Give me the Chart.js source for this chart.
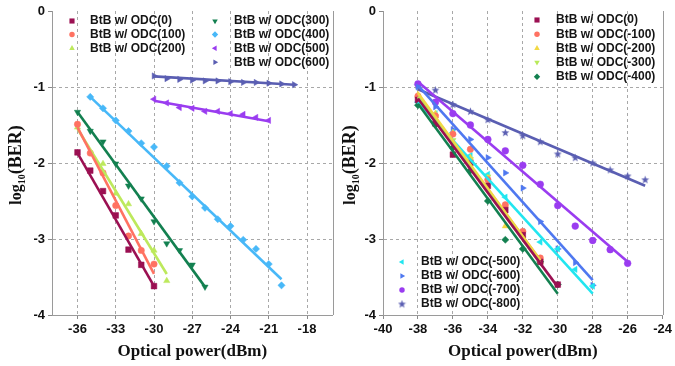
<!DOCTYPE html>
<html><head><meta charset="utf-8">
<script src="https://cdn.jsdelivr.net/npm/chart.js"></script>
<style>
html,body{margin:0;padding:0;background:#fff;}
#wrap{position:relative;width:675px;height:366px;background:#fff;}
#c1{position:absolute;left:0;top:0;width:337px;height:366px;}
#c2{position:absolute;left:337px;top:0;width:338px;height:366px;}
</style></head><body>
<div id="wrap"><canvas id="c1" width="337" height="366"></canvas><canvas id="c2" width="338" height="366"></canvas></div>
<script>
// ---------- LEFT PANEL DATA ----------
const leftXTicks = [-36, -33, -30, -27, -24, -21, -18];
const leftLabels = ['BtB w/ ODC(0)','BtB w/ ODC(100)','BtB w/ ODC(200)','BtB w/ ODC(300)','BtB w/ ODC(400)','BtB w/ ODC(500)','BtB w/ ODC(600)'];
const L0_x = [-36,-35,-34,-33,-32,-31,-30];
const L0_y = [-1.86,-2.10,-2.37,-2.69,-3.14,-3.34,-3.62];
const L0_fx = [-36,-30], L0_fy = [-1.87,-3.62];
const L100_x = [-36,-35,-34,-33,-32,-31,-30];
const L100_y = [-1.49,-1.87,-2.13,-2.56,-2.96,-3.15,-3.33];
const L100_fx = [-36,-30], L100_fy = [-1.53,-3.46];
const L200_x = [-36,-34,-33,-32,-31,-30,-29];
const L200_y = [-1.53,-2.01,-2.40,-2.54,-2.93,-3.15,-3.55];
const L200_fx = [-36,-29], L200_fy = [-1.55,-3.46];
const L300_x = [-36,-35,-34,-33,-32,-31,-30,-29,-28,-27,-26];
const L300_y = [-1.33,-1.58,-1.72,-2.01,-2.30,-2.47,-2.77,-3.06,-3.15,-3.34,-3.63];
const L300_fx = [-36,-26], L300_fy = [-1.33,-3.63];
const L400_x = [-35,-34,-33,-32,-31,-30,-29,-28,-27,-26,-25,-24,-23,-22,-21,-20];
const L400_y = [-1.13,-1.28,-1.44,-1.58,-1.74,-1.79,-2.04,-2.26,-2.44,-2.59,-2.74,-2.83,-3.01,-3.13,-3.33,-3.61];
const L400_fx = [-35,-20], L400_fy = [-1.13,-3.53];
const L500_x = [-30,-29,-28,-27,-26,-25,-24,-23,-22,-21];
const L500_y = [-1.16,-1.21,-1.27,-1.28,-1.32,-1.32,-1.35,-1.36,-1.40,-1.44];
const L500_fx = [-30,-21], L500_fy = [-1.18,-1.45];
const L600_x = [-30,-29,-28,-27,-26,-25,-24,-23,-22,-21,-20,-19];
const L600_y = [-0.855,-0.89,-0.90,-0.91,-0.92,-0.92,-0.93,-0.94,-0.94,-0.95,-0.96,-0.97];
const L600_fx = [-30,-19], L600_fy = [-0.86,-0.97];

// ---------- RIGHT PANEL DATA ----------
const rightLabels = ['BtB w/ ODC(0)','BtB w/ ODC(-100)','BtB w/ ODC(-200)','BtB w/ ODC(-300)','BtB w/ ODC(-400)','BtB w/ ODC(-500)','BtB w/ ODC(-600)','BtB w/ ODC(-700)','BtB w/ ODC(-800)'];
const R0_x = [-38,-37,-36,-35,-34,-33,-32,-31,-30];
const R0_y = [-1.17,-1.48,-1.89,-2.00,-2.30,-2.62,-2.95,-3.30,-3.60];
const R0_fx = [-38,-30], R0_fy = [-1.15,-3.63];
const R100_x = [-38,-37,-36,-35,-34,-33,-32,-31];
const R100_y = [-1.12,-1.38,-1.62,-1.82,-2.22,-2.55,-2.90,-3.25];
const R100_fx = [-38,-31], R100_fy = [-1.10,-3.28];
const R200_x = [-38,-37,-36,-35,-34,-33,-32,-31];
const R200_y = [-1.10,-1.35,-1.60,-1.93,-2.20,-2.83,-2.95,-3.30];
const R200_fx = [-38,-31], R200_fy = [-1.08,-3.28];
const R300_x = [-38,-37,-36,-35,-34,-33,-32,-31];
const R300_y = [-1.15,-1.42,-1.70,-1.95,-2.18,-2.60,-2.92,-3.30];
const R300_fx = [-38,-31], R300_fy = [-1.13,-3.32];
const R400_x = [-38,-37,-36,-35,-34,-33,-32,-31,-30];
const R400_y = [-1.24,-1.50,-1.80,-2.10,-2.50,-3.01,-3.13,-3.30,-3.60];
const R400_fx = [-38,-30], R400_fy = [-1.22,-3.72];
const R500_x = [-38,-37,-36,-35,-34,-33,-32,-31,-30,-29,-28];
const R500_y = [-1.20,-1.35,-1.60,-1.90,-2.15,-2.45,-2.90,-3.04,-3.13,-3.40,-3.62];
const R500_fx = [-38,-28], R500_fy = [-1.20,-3.72];
const R600_x = [-38,-37,-36,-35,-34,-33,-32,-31,-30,-29,-28];
const R600_y = [-1.00,-1.26,-1.56,-1.69,-1.93,-2.13,-2.33,-2.77,-3.13,-3.31,-3.61];
const R600_fx = [-38,-28], R600_fy = [-0.98,-3.54];
const R700_x = [-38,-37,-36,-35,-34,-33,-32,-31,-30,-29,-28,-27,-26];
const R700_y = [-0.96,-1.20,-1.35,-1.50,-1.69,-1.84,-2.03,-2.28,-2.56,-2.83,-3.02,-3.14,-3.32];
const R700_fx = [-38,-26], R700_fy = [-0.93,-3.30];
const R800_x = [-38,-37,-36,-35,-34,-33,-32,-31,-30,-29,-28,-27,-26,-25];
const R800_y = [-0.98,-1.04,-1.23,-1.32,-1.43,-1.60,-1.64,-1.72,-1.88,-1.93,-2.00,-2.09,-2.17,-2.22];
const R800_fx = [-38,-25], R800_fy = [-1.03,-2.30];

// ---------- STYLES ----------
const C = {
  m:'#9B1052', salmon:'#FF7262', lgreen:'#BDE95C', dgreen:'#138050', lblue:'#48B8F8',
  purple:'#9A3CF0', slate:'#5A5EB2', yellow:'#F2D944', ygreen:'#B9EA5A', cyan:'#22E6F0', blue:'#4F78F0'
};
function makeStar(color, R){
  const c = document.createElement('canvas'); c.width = 9; c.height = 9;
  const g = c.getContext('2d'); g.fillStyle = color; g.beginPath();
  for (let i=0;i<10;i++){ const r = i%2===0 ? R : R*0.42; const a = -Math.PI/2 + i*Math.PI/5;
    const px = 4.5 + r*Math.cos(a), py = 4.8 + r*Math.sin(a); if(i===0) g.moveTo(px,py); else g.lineTo(px,py); }
  g.closePath(); g.fill(); return c;
}
const starImg = makeStar(C.slate, 4.2);

function pts(xs, ys){ return xs.map((x,i)=>({x:x, y:ys[i]})); }
function series(label, xs, ys, color, style, rot, r){
  return {label:label, data:pts(xs,ys), showLine:false, pointStyle:style, pointRotation:rot||0, order:2,
    pointRadius:r||3.6, pointHoverRadius:r||3.6, pointBackgroundColor:color, pointBorderColor:color, pointBorderWidth:0.5,
    backgroundColor:color, borderColor:color};
}
function fit(xs, ys, color){
  return {label:'', data:pts(xs,ys), showLine:true, order:1, pointRadius:0, pointHoverRadius:0, borderColor:color, borderWidth:2.6, fill:false};
}

function marker(ctx, style, rot, r, color, x, y){
  ctx.save(); ctx.translate(x,y); ctx.rotate((rot||0)*Math.PI/180); ctx.fillStyle=color;
  if (style instanceof HTMLCanvasElement){ ctx.drawImage(style, -style.width/2, -style.height/2); }
  else {
    ctx.beginPath();
    if (style==='circle') ctx.arc(0,0,r*0.85,0,2*Math.PI);
    else if (style==='rect'){ const s=r*0.8; ctx.rect(-s,-s,2*s,2*s); }
    else if (style==='rectRot'){ ctx.moveTo(0,-r); ctx.lineTo(r,0); ctx.lineTo(0,r); ctx.lineTo(-r,0); ctx.closePath(); }
    else { ctx.moveTo(0,-r); ctx.lineTo(r*0.866,r*0.5); ctx.lineTo(-r*0.866,r*0.5); ctx.closePath(); }
    ctx.fill();
  }
  ctx.restore();
}

const decor = {
  id:'decor',
  afterDraw(chart, args, opts){
    const ctx = chart.ctx, a = chart.chartArea;
    ctx.save();
    ctx.strokeStyle = '#9a9a9a'; ctx.lineWidth = 1; ctx.setLineDash([]);
    ctx.beginPath(); ctx.moveTo(Math.round(a.right)+0.5, a.top); ctx.lineTo(Math.round(a.right)+0.5, a.bottom); ctx.stroke();
    ctx.translate(opts.titleX, opts.titleY); ctx.rotate(-Math.PI/2);
    ctx.fillStyle = '#111'; ctx.textBaseline = 'alphabetic'; ctx.textAlign = 'left';
    const big = 'bold 18px "Liberation Serif"', mid = 'bold 16px "Liberation Serif"', small = 'bold 10px "Liberation Serif"';
    ctx.font = mid; const w1 = ctx.measureText('log').width;
    ctx.font = small; const w2 = ctx.measureText('10').width;
    ctx.font = big; const w3 = ctx.measureText('(BER)').width;
    let x0 = -(w1+w2+w3)/2; const base = 6;
    ctx.font = mid; ctx.fillText('log', x0, base); x0 += w1;
    ctx.font = small; ctx.fillText('10', x0, base+4); x0 += w2;
    ctx.font = big; ctx.fillText('(BER)', x0, base);
    ctx.restore();
    ctx.save();
    ctx.font = 'bold 12px "Liberation Sans"'; ctx.textBaseline = 'middle'; ctx.textAlign = 'left';
    opts.groups.forEach(g => {
      g.items.forEach((di, k) => {
        const ds = chart.data.datasets[di]; const y = g.rows[k];
        marker(ctx, ds.pointStyle, ds.pointRotation, 3.2, ds.pointBackgroundColor, g.mx, y);
        ctx.fillStyle = '#151515'; ctx.fillText(ds.label, g.tx, y);
      });
    });
    ctx.restore();
  }
};

const tickFont = {family:'Liberation Sans', size:13, weight:'bold'};
function gridCol(edges){ return c => (c.tick && edges.includes(c.tick.value)) ? 'rgba(0,0,0,0)' : '#a8a8a8'; }
const yTicks = [0, -1, -2, -3, -4];
const rightXTicks = [-40, -38, -36, -34, -32, -30, -28, -26, -24];

function makeOptions(xmin, xmax, xticks, yw, padRight, titleX, groups){
  return {
    responsive:false, animation:false, devicePixelRatio:1,
    layout:{padding:{left:0, right:padRight, top:11, bottom:0}},
    plugins:{legend:{display:false}, tooltip:{enabled:false}, decor:{titleX:titleX, titleY:165, groups:groups}},
    scales:{
      x:{type:'linear', min:xmin, max:xmax,
        afterBuildTicks: s => { s.ticks = xticks.map(v => ({value:v})); },
        afterFit: s => { s.height = 51; },
        ticks:{font:tickFont, color:'#111', padding:3, maxRotation:0, autoSkip:false},
        grid:{color:gridCol([xmin,xmax]), lineWidth:1, drawTicks:true, tickLength:4, tickColor:'#8a8a8a'},
        border:{display:true, color:'#9a9a9a', width:1, dash:[3,3]},
        title:{display:true, text:'Optical power(dBm)', color:'#111', font:{family:'Liberation Serif', size:17, weight:'bold'}, padding:{top:2,bottom:4}}
      },
      y:{type:'linear', min:-4, max:0,
        afterBuildTicks: s => { s.ticks = yTicks.map(v => ({value:v})); },
        afterFit: s => { s.width = yw; },
        ticks:{font:tickFont, color:'#111', padding:3},
        grid:{color:gridCol([0,-4]), lineWidth:1, drawTicks:true, tickLength:4, tickColor:'#8a8a8a'},
        border:{display:true, color:'#9a9a9a', width:1, dash:[3,3]}
      }
    }
  };
}

// LEFT chart
const leftDatasets = [
  series(leftLabels[0], L0_x, L0_y, C.m, 'rect', 0, 4),
  series(leftLabels[1], L100_x, L100_y, C.salmon, 'circle', 0, 3.2),
  series(leftLabels[2], L200_x, L200_y, C.lgreen, 'triangle', 0),
  series(leftLabels[3], L300_x, L300_y, C.dgreen, 'triangle', 180),
  series(leftLabels[4], L400_x, L400_y, C.lblue, 'rectRot', 0),
  series(leftLabels[5], L500_x, L500_y, C.purple, 'triangle', 270),
  series(leftLabels[6], L600_x, L600_y, C.slate, 'triangle', 90),
  fit(L0_fx, L0_fy, C.m), fit(L100_fx, L100_fy, C.salmon), fit(L200_fx, L200_fy, C.lgreen),
  fit(L300_fx, L300_fy, C.dgreen), fit(L400_fx, L400_fy, C.lblue), fit(L500_fx, L500_fy, C.purple), fit(L600_fx, L600_fy, C.slate)
];
new Chart(document.getElementById('c1'), {
  type:'scatter', data:{datasets:leftDatasets},
  options: makeOptions(-38, -16, leftXTicks, 52, 2, 15, [
    {items:[0,1,2], mx:72, tx:90, rows:[21,34.5,48.3]},
    {items:[3,4,5,6], mx:215, tx:234, rows:[21,34.5,48.3,62.3]}
  ]),
  plugins:[decor]
});

// RIGHT chart
const rightDatasets = [
  series(rightLabels[0], R0_x, R0_y, C.m, 'rect', 0, 4),
  series(rightLabels[1], R100_x, R100_y, C.salmon, 'circle', 0, 3.2),
  series(rightLabels[2], R200_x, R200_y, C.yellow, 'triangle', 0),
  series(rightLabels[3], R300_x, R300_y, C.ygreen, 'triangle', 180),
  series(rightLabels[4], R400_x, R400_y, C.dgreen, 'rectRot', 0),
  series(rightLabels[5], R500_x, R500_y, C.cyan, 'triangle', 270),
  series(rightLabels[6], R600_x, R600_y, C.blue, 'triangle', 90),
  series(rightLabels[7], R700_x, R700_y, C.purple, 'circle', 0, 3.4),
  series(rightLabels[8], R800_x, R800_y, C.slate, starImg, 0),
  fit(R400_fx, R400_fy, C.dgreen), fit(R0_fx, R0_fy, C.m), fit(R300_fx, R300_fy, C.ygreen),
  fit(R200_fx, R200_fy, C.yellow), fit(R100_fx, R100_fy, C.salmon), fit(R500_fx, R500_fy, C.cyan),
  fit(R600_fx, R600_fy, C.blue), fit(R700_fx, R700_fy, C.purple), fit(R800_fx, R800_fy, C.slate)
];
new Chart(document.getElementById('c2'), {
  type:'scatter', data:{datasets:rightDatasets},
  options: makeOptions(-40, -24, rightXTicks, 46, 11, 12, [
    {items:[0,1,2,3,4], mx:200, tx:219, rows:[20,34.3,48.3,62.3,76.7]},
    {items:[5,6,7,8], mx:65, tx:84, rows:[262,276,290,304]}
  ]),
  plugins:[decor]
});
</script>
</body></html>
